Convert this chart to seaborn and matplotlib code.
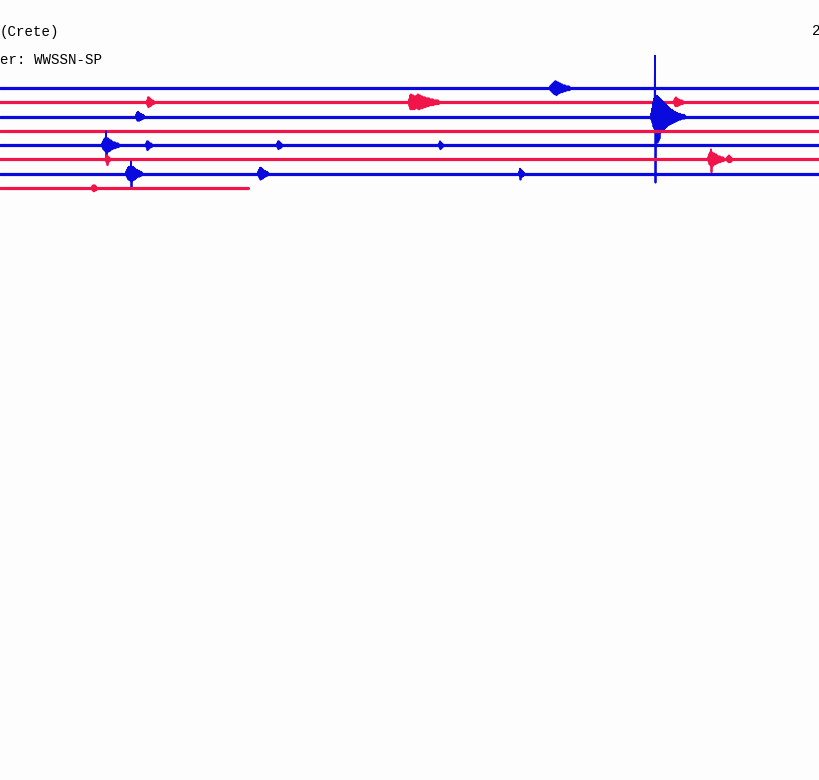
import matplotlib
matplotlib.use("Agg")
import matplotlib.pyplot as plt
import numpy as np
import seaborn as sns

# helicorder rows (top to bottom), pixel-like time axis
row_base = [88.3, 102.3, 116.7, 131.0, 145.3, 159.3, 173.7, 188.3]
row_end = [820, 820, 820, 820, 820, 820, 820, 248]
row_color = ["#0a0ade", "#f0144b"] * 4

title_left = "(Crete)"
filter_label = "er: WWSSN-SP"
title_right = "2"

# events: (row, start x, wiggle amplitudes sampled every 0.5 unit, upward positive)
events = [
    (0, 550, [2, -2, 3, -3, 4, -4, 5, -5, 6, -6, 7, -6, 7, -7, 6, -6, 6, -5, 5, -5,
              5, -4, 4, -4, 4, -4, 3, -3, 3, -3, 3, -3, 2, -2, 2, -2, 2, -2, 2, -2, 1, -1]),
    (1, 147, [2, -3, 5, -5, 5, -4, 4, -4, 3, -3, 2, -2, 2, -2, 1, -1]),
    (1, 409, [3, -4, 7, -7, 8, -7, 7, -7, 7, -7, 6, -7, 6, -6, 6, -5, 7, -6, 8, -7, 7, -7,
              7, -6, 6, -6, 6, -6, 5, -5, 5, -5, 5, -5, 4, -4, 4, -4, 4, -4, 4, -3, 3, -3,
              3, -3, 3, -3, 3, -3, 2, -2, 2, -2, 2, -2, 2, -2, 2, -2, 1, -1]),
    (1, 674, [2, -2, 4, -4, 5, -4, 4, -4, 3, -3, 3, -3, 2, -2, 2, -2, 2, -2, 1, -1]),
    (2, 136, [2, -2, 4, -4, 5, -4, 4, -4, 3, -3, 3, -3, 2, -2, 2, -2, 1, -1]),
    (2, 651, [3, -3, 8, -6, 14, -10, 18, -12, 61, -66, 20, -14, 21, -26, 20, -24, 19, -22,
              18, -16, 17, -14, 16, -13, 15, -13, 14, -12, 13, -11, 12, -10, 11, -9, 10, -8,
              9, -8, 8, -7, 7, -7, 7, -6, 6, -6, 5, -5, 5, -5, 4, -4, 4, -4, 3, -3, 3, -3,
              3, -3, 2, -2, 2, -2, 2, -2, 2, -2, 1, -1]),
    (4, 102, [2, -2, 4, -4, 6, -5, 7, -6, 14, -15, 7, -7, 7, -6, 6, -6, 5, -5, 5, -4, 4, -4,
              3, -3, 3, -3, 3, -3, 2, -2, 2, -2, 2, -2, 1, -1]),
    (4, 146, [2, -2, 4, -5, 4, -4, 3, -3, 2, -2, 2, -2, 1, -1]),
    (4, 277, [2, -2, 4, -4, 4, -3, 3, -3, 2, -2, 1, -1]),
    (4, 439, [2, -2, 4, -4, 3, -3, 2, -2, 1, -1]),
    (5, 106, [2, -3, 4, -6, 3, -3, 2, -2, 1, -1]),
    (5, 708, [2, -2, 5, -5, 7, -6, 10, -13, 7, -7, 6, -6, 6, -5, 5, -5, 5, -4, 4, -4, 3, -3,
              3, -3, 3, -3, 2, -2, 2, -2, 2, -2, 1, -1]),
    (5, 727, [2, -2, 3, -3, 4, -3, 3, -3, 2, -2, 1, -1]),
    (6, 126, [2, -2, 4, -4, 6, -6, 7, -6, 7, -7, 12, -14, 7, -7, 7, -6, 6, -6, 5, -5, 4, -4,
              4, -3, 3, -3, 3, -3, 2, -2, 2, -2, 1, -1]),
    (6, 258, [2, -2, 4, -4, 6, -6, 6, -5, 5, -5, 4, -4, 3, -3, 3, -3, 2, -2, 2, -2, 1, -1]),
    (6, 519, [2, -2, 5, -6, 4, -3, 3, -3, 2, -2, 1, -1]),
    (7, 92, [2, -2, 3, -3, 3, -3, 3, -2, 2, -2]),
]
step = 0.5

sns.set_theme(style="white")
plt.rcParams["font.family"] = ["Liberation Mono", "DejaVu Sans Mono"]

fig = plt.figure(figsize=(8.2, 7.8), dpi=100, facecolor="#fdfdfd")
ax = fig.add_axes([0, 0, 1, 1])
ax.set_facecolor("#fdfdfd")

for i, base in enumerate(row_base):
    # quiet trace
    sns.lineplot(x=[0, row_end[i]], y=[base, base], ax=ax, sort=False, estimator=None,
                 color=row_color[i], lw=2.3)
    # arrivals on this row
    for r, x0, wig in events:
        if r != i:
            continue
        x = x0 + step * np.arange(len(wig))
        sns.lineplot(x=x, y=base - np.array(wig), ax=ax, sort=False, estimator=None,
                     color=row_color[i], lw=1.3)

ax.text(0, 32, title_left, fontsize=10.2, va="center", ha="left", color="black")
ax.text(0, 60, filter_label, fontsize=10.2, va="center", ha="left", color="black")
ax.text(812, 31, title_right, fontsize=10.2, va="center", ha="left", color="black")

ax.set_xlim(0, 820)
ax.set_ylim(780, 0)
ax.axis("off")
fig.savefig("out.png", dpi=100, facecolor=fig.get_facecolor())
